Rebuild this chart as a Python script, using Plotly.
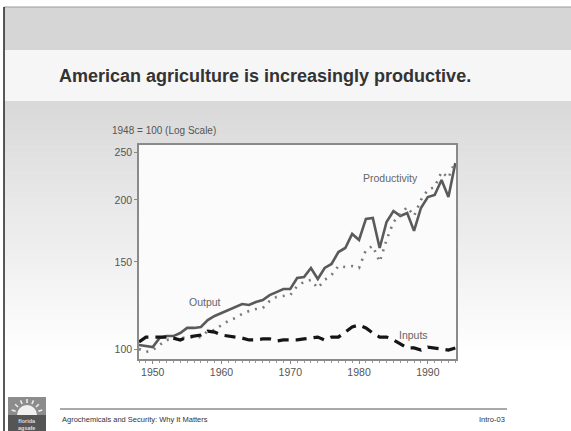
import plotly.graph_objects as go
import math

W, H = 571, 431

years = list(range(1948, 1995))
output = [101.9, 101.4, 100.9, 105.3, 106.2, 106.2, 107.7, 110.3, 110.3, 110.8,
          114.4, 116.6, 118.2, 119.9, 121.6, 123.3, 122.7, 124.4, 125.6, 128.5,
          130.3, 132.2, 132.2, 139.1, 139.8, 145.8, 138.5, 145.8, 148.5, 157.0,
          160.0, 170.8, 166.1, 183.1, 183.9, 160.0, 180.5, 190.0, 185.7, 188.3,
          173.2, 192.7, 202.8, 204.7, 219.5, 202.8, 237.5]
productivity = [100.0, 98.6, 99.5, 101.9, 104.3, 104.8, 105.3, 105.3, 105.7, 105.7,
                108.7, 109.2, 111.8, 113.9, 115.5, 117.7, 119.3, 120.4, 121.0, 125.0,
                127.4, 128.0, 128.5, 134.0, 136.6, 137.9, 132.8, 137.9, 141.1, 147.1,
                146.4, 147.1, 145.8, 158.5, 161.5, 149.9, 166.1, 180.5, 186.5, 193.6,
                185.7, 200.0, 209.6, 212.5, 227.9, 221.6, 239.8]
inputs = [103.3, 105.7, 105.7, 105.7, 105.7, 105.2, 104.3, 105.7, 106.2, 106.7,
          108.7, 108.2, 106.7, 106.2, 105.7, 105.2, 104.3, 104.3, 104.8, 104.8,
          103.8, 104.3, 104.3, 104.3, 104.8, 105.2, 105.7, 104.3, 105.7, 105.7,
          108.2, 110.8, 111.8, 110.3, 107.7, 105.7, 105.7, 104.3, 102.4, 100.5,
          100.5, 99.5, 100.9, 100.5, 100.0, 99.5, 100.5]

y_ticks = [100, 150, 200, 250]
y_tick_text = ["100", "150", "200", "250"]
x_ticks = [1950, 1960, 1970, 1980, 1990]

title_text = "American agriculture is increasingly productive."
axis_note = "1948 = 100 (Log Scale)"
footer_left = "Agrochemicals and Security: Why It Matters"
footer_right = "Intro-03"

def px(x):
    return x / W

def py(y):
    return 1 - y / H

fig = go.Figure()
fig.add_trace(go.Scatter(x=years, y=output, mode="lines", name="Output",
                         line=dict(color="#5a5a5a", width=2.6)))
fig.add_trace(go.Scatter(x=years, y=productivity, mode="lines", name="Productivity",
                         line=dict(color="#7a7a7a", width=2.6, dash="2px,6px")))
fig.add_trace(go.Scatter(x=years, y=inputs, mode="lines", name="Inputs",
                         line=dict(color="#151515", width=3.2, dash="11px,7px")))

shapes = []
shapes.append(dict(type="rect", xref="paper", yref="paper", x0=px(4), x1=1,
                   y0=py(50), y1=py(7), fillcolor="#d6d6d6", line_width=0, layer="below"))
shapes.append(dict(type="rect", xref="paper", yref="paper", x0=px(4), x1=1,
                   y0=py(101), y1=py(50), fillcolor="#f6f6f6", line_width=0, layer="below"))
N = 40
top, bot = 101, 360
c0, c1 = 0xd9, 0xff
for i in range(N):
    y0 = top + (bot - top) * i / N
    y1 = top + (bot - top) * (i + 1) / N + 0.5
    c = int(round(c0 + (c1 - c0) * i / (N - 1)))
    col = "#%02x%02x%02x" % (c, c, c)
    shapes.append(dict(type="rect", xref="paper", yref="paper", x0=px(4), x1=1,
                       y0=py(y1), y1=py(y0), fillcolor=col, line_width=0, layer="below"))
shapes.append(dict(type="rect", xref="paper", yref="paper", x0=px(4), x1=1,
                   y0=0, y1=py(bot), fillcolor="#ffffff", line_width=0, layer="below"))
shapes.append(dict(type="rect", xref="paper", yref="paper", x0=px(139), x1=px(456),
                   y0=py(359), y1=py(145), fillcolor="#fbfbfb", line_width=0, layer="below"))
shapes.append(dict(type="line", xref="paper", yref="paper", x0=px(4), x1=1,
                   y0=py(7), y1=py(7), line=dict(color="#9a9a9a", width=1)))
shapes.append(dict(type="line", xref="paper", yref="paper", x0=px(4), x1=px(4),
                   y0=0, y1=py(7), line=dict(color="#222222", width=1.5)))
shapes.append(dict(type="line", xref="paper", yref="paper", x0=px(60), x1=px(507),
                   y0=py(409), y1=py(409), line=dict(color="#555555", width=1)))
# logo
shapes.append(dict(type="rect", xref="paper", yref="paper", x0=px(8), x1=px(46),
                   y0=py(431), y1=py(397), fillcolor="#8c8c8c", line_width=0))
shapes.append(dict(type="circle", xref="paper", yref="paper", x0=px(17), x1=px(37),
                   y0=py(425), y1=py(405), fillcolor="#f0f0f0", line_width=0))
shapes.append(dict(type="rect", xref="paper", yref="paper", x0=px(8), x1=px(46),
                   y0=py(431), y1=py(415), fillcolor="#555555", line_width=0))
for k in range(7):
    a = math.pi * (0.1 + 0.8 * k / 6)
    cx, cy = 27, 415
    shapes.append(dict(type="line", xref="paper", yref="paper",
                       x0=px(cx + 12 * math.cos(a)), y0=py(cy - 12 * math.sin(a)),
                       x1=px(cx + 16 * math.cos(a)), y1=py(cy - 16 * math.sin(a)),
                       line=dict(color="#f0f0f0", width=1.5)))

annotations = [
    dict(text="<b>" + title_text + "</b>", xref="paper", yref="paper",
         x=px(265), y=py(76), showarrow=False, xanchor="center", yanchor="middle",
         font=dict(family="Liberation Sans, Arial", size=18, color="#333333")),
    dict(text=axis_note, xref="paper", yref="paper", x=px(110), y=py(130),
         showarrow=False, xanchor="left", yanchor="middle",
         font=dict(family="Liberation Sans, Arial", size=10, color="#555555")),
    dict(text="Productivity", xref="paper", yref="paper", x=px(390), y=py(178),
         showarrow=False, xanchor="center", yanchor="middle",
         font=dict(family="Liberation Sans, Arial", size=10.5, color="#666666")),
    dict(text="Output", xref="paper", yref="paper", x=px(205), y=py(302),
         showarrow=False, xanchor="center", yanchor="middle",
         font=dict(family="Liberation Sans, Arial", size=10.5, color="#666666")),
    dict(text="Inputs", xref="paper", yref="paper", x=px(413), y=py(335),
         showarrow=False, xanchor="center", yanchor="middle",
         font=dict(family="Liberation Sans, Arial", size=10.5, color="#666666")),
    dict(text=footer_left, xref="paper", yref="paper", x=px(60), y=py(419),
         showarrow=False, xanchor="left", yanchor="middle",
         font=dict(family="Liberation Sans, Arial", size=7.5, color="#333333")),
    dict(text=footer_right, xref="paper", yref="paper", x=px(507), y=py(419),
         showarrow=False, xanchor="right", yanchor="middle",
         font=dict(family="Liberation Sans, Arial", size=7.5, color="#333333")),
    dict(text="<b>florida<br>agsafe</b>", xref="paper", yref="paper", x=px(27), y=py(424),
         showarrow=False, xanchor="center", yanchor="middle",
         font=dict(family="Liberation Sans", size=5.5, color="#dddddd")),
]

fig.update_layout(
    width=W, height=H,
    margin=dict(l=0, r=0, t=0, b=0),
    paper_bgcolor="#ffffff",
    plot_bgcolor="rgba(0,0,0,0)",
    showlegend=False,
    shapes=shapes,
    annotations=annotations,
    xaxis=dict(domain=[px(139), px(456)], range=[1948, 1994.1],
               tickvals=x_ticks, ticks="outside", ticklen=3, tickcolor="#888888",
               minor=dict(dtick=1, tick0=1948, ticks="outside", ticklen=2, tickcolor="#999999"),
               showline=True, linecolor="#8a8a8a", linewidth=1.5, mirror=True,
               showgrid=False, zeroline=False,
               tickfont=dict(family="Liberation Sans, Arial", size=10.5, color="#555555")),
    yaxis=dict(domain=[py(359), py(145)], type="log", range=[1.9798, 2.4121],
               tickvals=y_ticks, ticktext=y_tick_text,
               ticks="outside", ticklen=3, tickcolor="#888888",
               showline=True, linecolor="#8a8a8a", linewidth=1.5, mirror=True,
               showgrid=False, zeroline=False,
               tickfont=dict(family="Liberation Sans, Arial", size=10.5, color="#555555")),
)

fig.write_html("out.html")
